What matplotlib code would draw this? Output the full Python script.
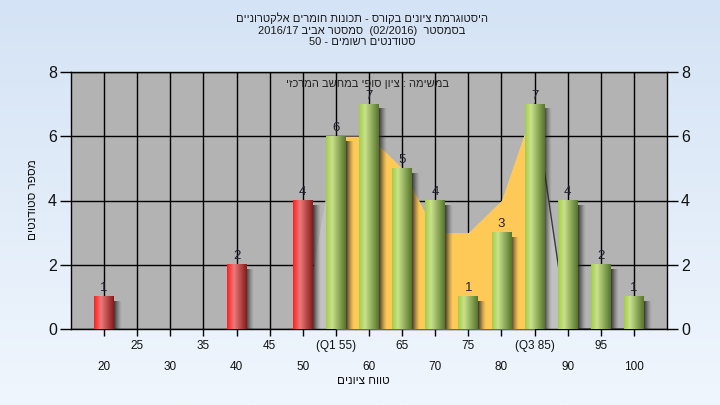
import re
import numpy as np
import matplotlib
matplotlib.use("Agg")
import matplotlib.pyplot as plt
from matplotlib.colors import LinearSegmentedColormap

plt.rcParams['font.family'] = ['Liberation Sans', 'DejaVu Sans']

# grade bins and number of students
grades = [20, 25, 30, 35, 40, 45, 50, 55, 60, 65, 70, 75, 80, 85, 90, 95, 100]
counts = [1, 0, 0, 0, 2, 0, 4, 6, 7, 5, 4, 1, 3, 7, 4, 2, 1]
fail_limit = 50

# distribution area behind the bars (orange = Q1..Q3)
area_x = [50, 55, 60, 65, 70, 75, 80, 85, 90, 95, 100]
area_y = [0, 6, 6, 5, 3, 3, 4, 7, 0, 0, 0]
q1, q3 = 55, 85

tick_text = {55: "(Q1 55)", 85: "(Q3 85)"}

title_lines = ["היסטוגרמת ציונים בקורס - תכונות חומרים אלקטרוניים",
               "בסמסטר  (02/2016)  סמסטר אביב 2016/17",
               "סטודנטים רשומים - 50"]
note = "במשימה : ציון סופי במחשב המרכזי"
xlab = "טווח ציונים"
ylab = "מספר סטודנטים"

MIRROR = {"(": ")", ")": "(", "[": "]", "]": "["}


def rtl(s):
    # crude bidi: keep latin/number runs, reverse the rest
    toks = re.findall(r"[A-Za-z0-9/.]+|.", s)
    out = []
    for t in reversed(toks):
        out.append(MIRROR.get(t, t))
    return "".join(out)


fig = plt.figure(figsize=(7.2, 4.05), dpi=100)

# page background gradient
bg = fig.add_axes([0, 0, 1, 1], zorder=-10)
bg_cmap = LinearSegmentedColormap.from_list("bg", ["#d4e3f5", "#f0f6fd"])
bg.imshow(np.linspace(0, 1, 256)[:, None], aspect="auto", cmap=bg_cmap,
          extent=[0, 1, 0, 1])
bg.axis("off")

ax = fig.add_axes([71 / 720, 1 - 329 / 405, 596 / 720, 257 / 405])
ax.set_facecolor("#b3b3b3")

red_cmap = LinearSegmentedColormap.from_list(
    "red", [(0, "#ff1f1f"), (0.35, "#ec7a7a"), (1, "#861a1a")])
green_cmap = LinearSegmentedColormap.from_list(
    "green", [(0, "#a4cd4a"), (0.3, "#c9e28c"), (1, "#56742b")])
grad = np.linspace(0, 1, 64)[None, :]

# shadow image: dark -> transparent
sh = np.zeros((1, 32, 4))
sh[..., :3] = 0.15
sh[..., 3] = np.linspace(0.9, 0, 32) ** 1.3

# distribution area
ax.fill_between(area_x, area_y, color="#c1c1c1", lw=0, zorder=2)
ix = [i for i, x in enumerate(area_x) if q1 <= x <= q3]
ax.fill_between([area_x[i] for i in ix], [area_y[i] for i in ix],
                color="#fec957", lw=0, zorder=3)
jx = [i for i, x in enumerate(area_x) if x >= q3]
ax.plot([area_x[i] for i in jx], [area_y[i] for i in jx],
        color="#3a3a3a", lw=1, zorder=3)

bw = 3.0
for g, c in zip(grades, counts):
    if c == 0:
        continue
    cm = red_cmap if g <= fail_limit else green_cmap
    ax.imshow(sh, extent=[g + bw / 2, g + bw / 2 + 1.2, -0.05, c - 0.15],
              aspect="auto", zorder=4, interpolation="bilinear")
    ax.imshow(grad, extent=[g - bw / 2, g + bw / 2, 0, c], aspect="auto",
              cmap=cm, zorder=5, interpolation="bilinear")
    ax.text(g, c + 0.08, str(c), ha="center", va="bottom", fontsize=9.5,
            color="#202030", zorder=6)

ax.set_xlim(15, 105)
ax.set_ylim(0, 8)

# grid
ax.set_axisbelow(True)
ax.grid(True, color="black", lw=1)
ax.set_yticks([0, 2, 4, 6, 8])
ax.set_xticks(grades)
labels = []
for k, g in enumerate(grades):
    if k % 2 == 0:
        labels.append("\n" + str(g))
    else:
        labels.append(tick_text.get(g, str(g)))
ax.set_xticklabels(labels, fontsize=8.5, color="#111111", linespacing=2.0)
ax.tick_params(axis="x", length=5, width=1, pad=3)
ax.tick_params(axis="y", length=8, width=1, labelsize=11.5, pad=2,
               right=True, labelright=True, labelcolor="#111111")
for s in ax.spines.values():
    s.set_color("black")
    s.set_linewidth(1)

ax.text(0.497, 0.953, rtl(note), transform=ax.transAxes, ha="center",
        va="center", fontsize=8, color="#222222", zorder=7)

fig.text(0.503, 1 - 30 / 405, "\n".join(rtl(t) for t in title_lines),
         ha="center", va="center", fontsize=8, color="#1a1a1a",
         linespacing=1.2)
fig.text(363 / 720, 1 - 381 / 405, rtl(xlab), ha="center", va="center",
         fontsize=8.5, color="#111111")
fig.text(33 / 720, 1 - 200 / 405, rtl(ylab), ha="center", va="center",
         fontsize=8.5, color="#111111", rotation=90)

fig.savefig("out.png", dpi=100)
